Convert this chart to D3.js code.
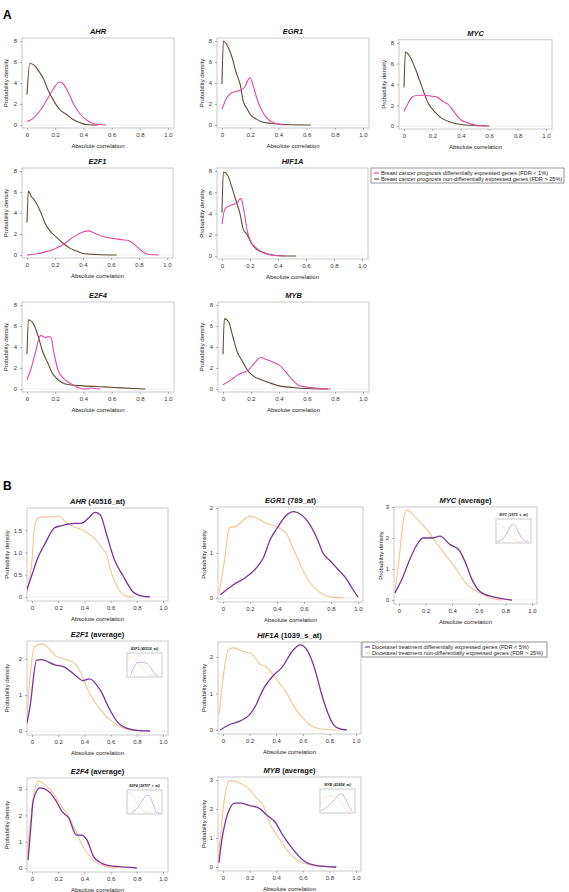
<!DOCTYPE html>
<html><head><meta charset="utf-8">
<script src="https://cdn.jsdelivr.net/npm/d3@7"></script>
<style>
body{margin:0;background:#fff;}
svg{display:block;font-family:"Liberation Sans",Arial,sans-serif;}
</style></head>
<body><svg id="c" width="569" height="892"></svg>
<script>
// ---------------- DATA ----------------
const xTicks = [0, 0.2, 0.4, 0.6, 0.8, 1.0];
const yTicksA = [0, 2, 4, 6, 8];
const legendA = ["Breast cancer prognosis differentially expressed genes (FDR < 1%)",
                 "Breast cancer prognosis non-differentially expressed genes (FDR > 25%)"];
const legendB = ["Docetaxel treatment differentially expressed genes (FDR < 5%)",
                 "Docetaxel treatment non-differentially expressed genes (FDR > 25%)"];
const titlesA = ["AHR", "EGR1", "MYC", "E2F1", "HIF1A", "E2F4", "MYB"];
const titlesB = [["AHR", " (40516_at)"], ["EGR1", " (789_at)"], ["MYC", " (average)"],
                 ["E2F1", " (average)"], ["HIF1A", " (1039_s_at)"], ["E2F4", " (average)"], ["MYB", " (average)"]];
const yTicksB = [[0, 0.5, 1.0, 1.5], [0, 1, 2], [0, 1, 2, 3], [0, 1, 2], [0, 1, 2], [0, 1, 2, 3], [0, 1, 2, 3]];
const insetTitles = {MYC: "MYC (1973_s_at)", E2F1: "E2F1 (40516_at)", E2F4: "E2F4 (38707_r_at)", MYB: "MYB (41854_at)"};

// Panel A: differentially expressed (pink) and non-differentially (brown)
const A_AHR_de  = [[0,0.3],[0.05,0.7],[0.1,1.5],[0.15,2.6],[0.19,3.5],[0.23,4.1],[0.25,4.0],[0.29,3.2],[0.33,2.0],[0.38,1.0],[0.43,0.4],[0.48,0.1],[0.56,0]];
const A_AHR_nde = [[0,2.9],[0.02,5.85],[0.05,5.7],[0.08,5.2],[0.12,4.3],[0.15,3.3],[0.19,2.3],[0.23,1.5],[0.28,1.0],[0.33,0.5],[0.38,0.2],[0.42,0.05],[0.5,0]];
const A_EGR1_de  = [[0,1.5],[0.03,2.5],[0.06,3.0],[0.1,3.2],[0.13,3.3],[0.16,3.6],[0.19,4.4],[0.2,4.5],[0.22,3.8],[0.25,2.4],[0.29,1.2],[0.33,0.5],[0.38,0.15],[0.45,0]];
const A_EGR1_nde = [[0,3.9],[0.01,8.0],[0.04,7.5],[0.07,6.5],[0.1,5.0],[0.13,3.8],[0.15,2.3],[0.18,1.5],[0.2,1.0],[0.24,0.6],[0.28,0.3],[0.35,0.15],[0.45,0.05],[0.63,0]];
const A_MYC_de  = [[0,1.4],[0.03,2.2],[0.06,2.8],[0.1,2.95],[0.15,2.95],[0.2,2.85],[0.23,2.8],[0.27,2.4],[0.31,2.1],[0.35,1.4],[0.4,0.6],[0.45,0.3],[0.5,0.1],[0.58,0]];
const A_MYC_nde = [[0,3.7],[0.01,7.1],[0.04,6.7],[0.08,5.5],[0.12,4.0],[0.17,2.2],[0.22,1.3],[0.26,0.8],[0.32,0.4],[0.4,0.15],[0.5,0.05],[0.6,0]];
const A_E2F1_de  = [[0,0],[0.06,0.1],[0.13,0.3],[0.2,0.6],[0.27,1.1],[0.33,1.7],[0.4,2.2],[0.44,2.3],[0.48,2.1],[0.53,1.8],[0.58,1.65],[0.63,1.55],[0.68,1.45],[0.72,1.4],[0.76,1.1],[0.8,0.6],[0.84,0.2],[0.88,0.05],[0.94,0]];
const A_E2F1_nde = [[0,3.1],[0.01,6.1],[0.03,5.6],[0.06,5.1],[0.1,4.0],[0.13,3.0],[0.17,2.2],[0.21,1.7],[0.26,1.1],[0.3,0.7],[0.35,0.4],[0.4,0.15],[0.5,0.05],[0.64,0]];
const A_HIF1A_de  = [[0,3.0],[0.02,4.4],[0.05,4.7],[0.09,4.9],[0.11,5.0],[0.13,5.4],[0.14,5.3],[0.16,4.0],[0.18,2.4],[0.2,1.5],[0.24,0.8],[0.28,0.4],[0.33,0.15],[0.38,0.05],[0.45,0]];
const A_HIF1A_nde = [[0,4.1],[0.01,7.9],[0.04,7.6],[0.07,6.5],[0.1,5.2],[0.13,3.9],[0.15,2.6],[0.18,2.0],[0.21,1.2],[0.25,0.6],[0.3,0.3],[0.36,0.1],[0.42,0.03],[0.53,0]];
const A_E2F4_de  = [[0,0.9],[0.03,2.0],[0.06,3.5],[0.09,5.0],[0.1,5.1],[0.13,4.9],[0.15,5.0],[0.17,4.9],[0.19,3.5],[0.22,1.8],[0.26,1.0],[0.3,0.6],[0.34,0.3],[0.38,0.05],[0.42,0],[0.45,0.1],[0.48,0.05],[0.52,0]];
const A_E2F4_nde = [[0,3.3],[0.01,6.6],[0.05,6.1],[0.08,5.0],[0.11,3.6],[0.15,2.4],[0.18,1.5],[0.21,1.0],[0.25,0.6],[0.3,0.4],[0.4,0.3],[0.55,0.2],[0.62,0.15],[0.75,0.05],[0.84,0]];
const A_MYB_de  = [[0,0.4],[0.05,0.8],[0.1,1.3],[0.15,1.6],[0.18,1.8],[0.22,2.4],[0.27,3.0],[0.31,2.8],[0.35,2.6],[0.4,2.3],[0.45,1.6],[0.5,0.8],[0.55,0.3],[0.62,0.15],[0.7,0.05],[0.77,0]];
const A_MYB_nde = [[0,3.3],[0.01,6.7],[0.04,6.4],[0.07,5.0],[0.1,3.6],[0.14,2.6],[0.18,1.7],[0.22,1.2],[0.27,0.9],[0.33,0.6],[0.4,0.3],[0.5,0.15],[0.6,0.05],[0.75,0]];

// Panel B: differentially expressed (purple) and non-differentially (peach)
const B_AHR_de  = [[-0.04,0.16],[0,0.5],[0.04,0.85],[0.1,1.2],[0.17,1.55],[0.22,1.6],[0.3,1.65],[0.38,1.66],[0.44,1.8],[0.48,1.9],[0.52,1.85],[0.57,1.4],[0.63,0.83],[0.7,0.45],[0.77,0.12],[0.84,0.02],[0.9,0]];
const B_AHR_nde = [[-0.04,0.1],[0,0.83],[0.02,1.6],[0.05,1.78],[0.1,1.8],[0.15,1.8],[0.2,1.82],[0.26,1.68],[0.32,1.58],[0.39,1.5],[0.45,1.38],[0.49,1.28],[0.54,1.08],[0.57,0.95],[0.6,0.6],[0.64,0.3],[0.68,0.1],[0.72,0.02],[0.78,0]];
const B_EGR1_de  = [[-0.02,0.07],[0.08,0.3],[0.16,0.44],[0.25,0.68],[0.3,0.9],[0.35,1.3],[0.4,1.55],[0.47,1.84],[0.52,1.92],[0.55,1.9],[0.62,1.73],[0.7,1.3],[0.74,1.0],[0.79,0.84],[0.85,0.64],[0.91,0.44],[0.96,0.2],[1.0,0.02]];
const B_EGR1_nde = [[-0.03,0.1],[0.015,0.92],[0.04,1.5],[0.06,1.58],[0.09,1.58],[0.14,1.7],[0.2,1.82],[0.23,1.8],[0.32,1.66],[0.42,1.55],[0.47,1.43],[0.52,1.1],[0.55,0.9],[0.59,0.62],[0.67,0.25],[0.73,0.1],[0.79,0.03],[0.9,0]];
const B_MYC_de  = [[-0.03,0.23],[0.03,0.75],[0.08,1.3],[0.13,1.75],[0.18,2.0],[0.25,2.0],[0.31,2.06],[0.38,1.8],[0.45,1.62],[0.5,1.2],[0.55,0.65],[0.61,0.27],[0.71,0.1],[0.85,0]];
const B_MYC_nde = [[-0.03,0.3],[0.0,1.3],[0.03,2.5],[0.06,2.9],[0.13,2.64],[0.21,2.26],[0.28,1.85],[0.36,1.4],[0.43,1.0],[0.5,0.55],[0.61,0.22],[0.7,0.05],[0.77,0]];
const B_E2F1_de  = [[-0.04,0.2],[-0.015,0.68],[0.035,1.97],[0.07,1.98],[0.18,1.83],[0.24,1.79],[0.33,1.55],[0.39,1.4],[0.44,1.45],[0.52,1.14],[0.6,0.55],[0.66,0.22],[0.72,0.08],[0.82,0.01],[0.9,0]];
const B_E2F1_nde = [[-0.04,0.3],[-0.015,1.5],[0.02,2.34],[0.08,2.42],[0.14,2.25],[0.18,2.08],[0.25,2.0],[0.34,1.83],[0.38,1.55],[0.44,1.05],[0.52,0.6],[0.6,0.3],[0.7,0.08],[0.78,0.02],[0.84,0]];
const B_HIF1A_de  = [[-0.02,0],[0.05,0.15],[0.13,0.25],[0.2,0.42],[0.25,0.7],[0.3,1.1],[0.38,1.5],[0.44,1.7],[0.53,2.2],[0.58,2.33],[0.63,2.2],[0.7,1.55],[0.74,1.0],[0.78,0.55],[0.83,0.15],[0.88,0.03],[0.93,0]];
const B_HIF1A_nde = [[-0.03,0.4],[-0.01,1.1],[0.04,2.2],[0.08,2.25],[0.15,2.15],[0.21,2.1],[0.28,1.8],[0.33,1.72],[0.4,1.4],[0.48,1.0],[0.55,0.55],[0.6,0.33],[0.65,0.15],[0.72,0.04],[0.85,0]];
const B_E2F4_de  = [[-0.03,0.3],[-0.01,1.5],[0.01,2.58],[0.06,3.04],[0.11,2.97],[0.18,2.58],[0.23,2.14],[0.28,1.9],[0.34,1.25],[0.38,1.25],[0.42,1.06],[0.47,0.43],[0.52,0.22],[0.57,0.11],[0.72,0.03],[0.8,0]];
const B_E2F4_nde = [[-0.04,0.4],[-0.02,1.4],[0,2.33],[0.05,3.3],[0.09,3.2],[0.16,2.85],[0.23,2.33],[0.28,1.95],[0.34,1.33],[0.39,0.81],[0.47,0.3],[0.55,0.08],[0.65,0]];
const B_MYB_de  = [[-0.03,0.15],[-0.01,0.9],[0.02,1.6],[0.05,2.0],[0.09,2.2],[0.13,2.2],[0.2,2.12],[0.27,2.03],[0.33,1.79],[0.39,1.56],[0.45,1.1],[0.53,0.59],[0.6,0.24],[0.7,0.05],[0.85,0]];
const B_MYB_nde = [[-0.04,0.14],[-0.02,1.0],[0,1.97],[0.03,2.8],[0.05,2.97],[0.13,2.89],[0.19,2.72],[0.25,2.38],[0.3,2.14],[0.35,1.52],[0.43,0.93],[0.5,0.48],[0.6,0.14],[0.72,0.05],[0.86,0]];

// inset curves (relative density, 0..1 on both axes)
const I_MYC_de  = [[0,0.02],[0.15,0.1],[0.3,0.4],[0.42,0.75],[0.5,0.8],[0.6,0.6],[0.7,0.3],[0.82,0.08],[0.95,0.02]];
const I_MYC_nde = [[0,0.85],[0.08,0.8],[0.2,0.62],[0.35,0.35],[0.5,0.12],[0.65,0.03],[0.85,0]];
const I_E2F1_de  = [[0.08,0.05],[0.2,0.45],[0.3,0.62],[0.45,0.62],[0.55,0.58],[0.68,0.4],[0.78,0.15],[0.9,0.02]];
const I_E2F1_nde = [[0.02,0.75],[0.08,0.92],[0.2,0.75],[0.35,0.5],[0.5,0.25],[0.65,0.06],[0.8,0]];
const I_E2F4_de  = [[0.12,0.02],[0.3,0.25],[0.45,0.6],[0.57,0.8],[0.65,0.78],[0.75,0.45],[0.85,0.05],[0.95,0]];
const I_E2F4_nde = [[0,0.85],[0.05,0.95],[0.15,0.75],[0.3,0.4],[0.42,0.12],[0.55,0.02],[0.7,0]];
const I_MYB_de  = [[0,0.05],[0.2,0.25],[0.4,0.55],[0.55,0.8],[0.62,0.85],[0.72,0.65],[0.85,0.25],[0.95,0.03]];
const I_MYB_nde = [[0,0.3],[0.1,0.65],[0.25,0.72],[0.42,0.7],[0.6,0.45],[0.75,0.12],[0.9,0]];

// ---------------- LAYOUT / STYLE ----------------
const pink = "#e0489f", brown = "#5e4b33", purple = "#7b3294", peach = "#f0c494";
const frameCol = "#c9c9c9";

const svg = d3.select("#c");

// layout: [xpx at 0, xpx at 1, ypx at 0, ypx at topValue, topValue, frameTop]
const layoutA = [
  [27,168,125,41], [222,363,125,41], [404,546,126,42.7],
  [27,167,255,171], [222,362,256,171],
  [27,168,389,305], [223,363,389,305]
];
const seriesA = [[A_AHR_de,A_AHR_nde],[A_EGR1_de,A_EGR1_nde],[A_MYC_de,A_MYC_nde],
  [A_E2F1_de,A_E2F1_nde],[A_HIF1A_de,A_HIF1A_nde],[A_E2F4_de,A_E2F4_nde],[A_MYB_de,A_MYB_nde]];

const layoutB = [
  [32,163,597,508,2,508], [223,358,598,508,2,507], [399,532,600,507,3,507],
  [32,163,731,659,2,641], [223,356,730,657,2,642],
  [32,163,868,789,3,778], [223,356,867,780,3,777]
];
const seriesB = [[B_AHR_de,B_AHR_nde],[B_EGR1_de,B_EGR1_nde],[B_MYC_de,B_MYC_nde],
  [B_E2F1_de,B_E2F1_nde],[B_HIF1A_de,B_HIF1A_nde],[B_E2F4_de,B_E2F4_nde],[B_MYB_de,B_MYB_nde]];
const insetB = {2:["MYC",I_MYC_de,I_MYC_nde],3:["E2F1",I_E2F1_de,I_E2F1_nde],5:["E2F4",I_E2F4_de,I_E2F4_nde],6:["MYB",I_MYB_de,I_MYB_nde]};

function styleAxis(g){
  g.select(".domain").remove();
  g.selectAll(".tick line").attr("stroke","#777").attr("stroke-width",0.6);
  g.selectAll(".tick text").attr("fill","#333").style("font-size","6px").style("font-family","Liberation Sans, Arial, sans-serif");
}

function drawPlot(L, topVal, yTicks, yFmt, series, colors, widths, frame, title, labelXs){
  const x = d3.scaleLinear().domain([0,1]).range([L[0],L[1]]);
  const y = d3.scaleLinear().domain([0,topVal]).range([L[2],L[3]]);
  const [fl,fr,ft,fb] = frame;
  const g = svg.append("g");
  const cid = "clip" + Math.round(fl) + "_" + Math.round(ft);
  g.append("clipPath").attr("id",cid).append("rect").attr("x",fl).attr("y",ft).attr("width",fr-fl).attr("height",fb-ft);
  g.append("rect").attr("x",fl).attr("y",ft).attr("width",fr-fl).attr("height",fb-ft)
    .attr("fill","none").attr("stroke",frameCol).attr("stroke-width",1);
  g.append("line").attr("x1",fl).attr("x2",fr).attr("y1",y(0)).attr("y2",y(0))
    .attr("stroke","#ececec").attr("stroke-width",0.8);
  const ya = g.append("g").attr("transform",`translate(${fl},0)`)
    .call(d3.axisLeft(y).tickValues(yTicks).tickSize(2).tickPadding(3).tickFormat(yFmt));
  styleAxis(ya);
  const xa = g.append("g").attr("transform",`translate(0,${fb})`)
    .call(d3.axisBottom(x).tickValues(xTicks).tickSize(2).tickPadding(3).tickFormat(d=>d===0?"0":d.toFixed(1)));
  styleAxis(xa);
  g.append("text").attr("x",(fl+fr)/2).attr("y",fb+20).attr("text-anchor","middle")
    .attr("fill","#222").style("font-size","6px").text("Absolute correlation");
  g.append("text").attr("transform",`translate(${labelXs},${(ft+fb)/2}) rotate(-90)`)
    .attr("text-anchor","middle").attr("fill","#222").style("font-size","6px").text("Probability density");
  const line = d3.line().x(d=>x(d[0])).y(d=>y(d[1])).curve(d3.curveMonotoneX);
  const pg = g.append("g").attr("clip-path",`url(#${cid})`);
  series.forEach((s,i)=>{
    pg.append("path").datum(s).attr("d",line).attr("fill","none")
      .attr("stroke",colors[i]).attr("stroke-width",widths[i]).attr("stroke-linejoin","round");
  });
  const t = g.append("text").attr("x",(fl+fr)/2).attr("y",ft-4).attr("text-anchor","middle")
    .attr("fill","#111").style("font-size","7.5px").style("font-weight","bold");
  t.append("tspan").style("font-style","italic").text(title[0]);
  if(title[1]) t.append("tspan").text(title[1]);
  return g;
}

// Panel labels
svg.append("text").attr("x",3).attr("y",19).style("font-size","12px").style("font-weight","bold").text("A");
svg.append("text").attr("x",3).attr("y",490).style("font-size","12px").style("font-weight","bold").text("B");

// Panel A
const labelXA = [8, 204, 386, 8, 204, 8, 204];
layoutA.forEach((L,i)=>{
  const frame = [L[0]-5, L[1]+6, L[3]-3, L[2]+3];
  drawPlot(L, 8, yTicksA, d3.format("d"), [seriesA[i][1], seriesA[i][0]], [brown, pink], [1.1,1.1], frame, [titlesA[i]], labelXA[i]);
});

// Panel B
const labelXB = [9, 206, 383, 9, 206, 9, 206];
layoutB.forEach((L,i)=>{
  const frame = [L[0]-5, L[1]+5, L[5], L[2]+4];
  const fmt = i===0 ? (d=>d===0?"0":d.toFixed(1)) : d3.format("d");
  drawPlot(L, L[4], yTicksB[i], fmt, [seriesB[i][1], seriesB[i][0]], [peach, purple], [1.1,1.3], frame, titlesB[i], labelXB[i]);
  if(insetB[i]){
    const [name, de, nde] = insetB[i];
    const bx0 = L[1]-36, bx1 = L[1]-1, by0 = L[5]+12, by1 = L[5]+36;
    const ix = d3.scaleLinear().domain([0,1]).range([bx0+1,bx1-1]);
    const iy = d3.scaleLinear().domain([0,1]).range([by1-1,by0+1]);
    const ig = svg.append("g");
    ig.append("rect").attr("x",bx0).attr("y",by0).attr("width",bx1-bx0).attr("height",by1-by0)
      .attr("fill","#fff").attr("stroke","#bbb").attr("stroke-width",0.8);
    const il = d3.line().x(d=>ix(d[0])).y(d=>iy(d[1])).curve(d3.curveMonotoneX);
    ig.append("path").datum(nde).attr("d",il).attr("fill","none").attr("stroke","#f5d9bd").attr("stroke-width",0.7);
    ig.append("path").datum(de).attr("d",il).attr("fill","none").attr("stroke","#b993c8").attr("stroke-width",0.7);
    ig.append("text").attr("x",(bx0+bx1)/2).attr("y",by0-3).attr("text-anchor","middle")
      .style("font-size","3.6px").style("font-weight","bold").style("font-style","italic").attr("fill","#222")
      .text(insetTitles[name]);
  }
});

// Legends
function legend(x0,y0,w,h,items,colors){
  const g = svg.append("g");
  g.append("rect").attr("x",x0).attr("y",y0).attr("width",w).attr("height",h)
    .attr("fill","#fff").attr("stroke","#888").attr("stroke-width",0.9);
  items.forEach((t,i)=>{
    const yy = y0 + 5 + i*6;
    g.append("line").attr("x1",x0+3).attr("x2",x0+8).attr("y1",yy).attr("y2",yy)
      .attr("stroke",colors[i]).attr("stroke-width",1.1);
    g.append("text").attr("x",x0+10).attr("y",yy+2).style("font-size","5.6px").attr("fill","#222").text(t);
  });
}
legend(371,168,193,15,legendA,[pink,brown]);
legend(362,642,185,15,legendB,[purple,peach]);
</script></body></html>
